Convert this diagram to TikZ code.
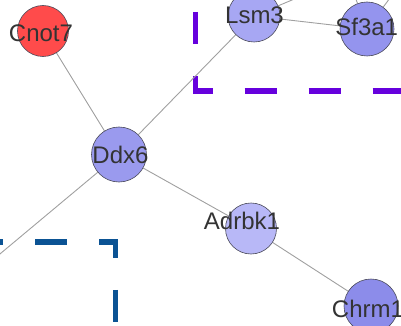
\documentclass[tikz,border=0pt]{standalone}
\usepackage{fontspec}
\setmainfont{Liberation Sans}
\pgfdeclarelayer{back}
\pgfsetlayers{back,main}
\definecolor{edgegray}{HTML}{A0A0A0}
\definecolor{txtgray}{HTML}{333333}
\definecolor{rimgray}{HTML}{4A4A5A}
\definecolor{boxpurple}{HTML}{6600DD}
\definecolor{boxblue}{HTML}{0B5394}
\definecolor{cred}{HTML}{FF4B4B}
\definecolor{cddx}{HTML}{9A9AEE}
\definecolor{clsm}{HTML}{A7A7F3}
\definecolor{csf}{HTML}{9494EE}
\definecolor{cadr}{HTML}{B8B8F7}
\definecolor{cchr}{HTML}{8C8CEA}
\begin{document}
\begin{tikzpicture}[x=1pt,y=-1pt,
  gene/.style={circle,draw=rimgray,line width=0.6pt,inner sep=0pt},
  lbl/.style={inner sep=0pt,text=txtgray,font=\fontsize{24}{28}\selectfont},
  edge/.style={draw=edgegray,line width=0.9pt},
  region/.style={line width=5.5pt,dash pattern=on 32pt off 32pt,line cap=butt}]
\useasboundingbox (0,0) rectangle (401,326);
\clip (0,0) rectangle (401,326);
% group boxes
\coordinate (pstart) at (195.5,-52);
\coordinate (pcorner) at (195.5,91);
\coordinate (pend) at (440,91);
\coordinate (bstart) at (-28.7,242);
\coordinate (bcorner) at (115.5,242);
\coordinate (bend) at (115.5,380);
% nodes
\node[gene,fill=cred,minimum size=51pt] (cnot7) at (43,31) {};
\node[gene,fill=cddx,minimum size=55pt] (ddx6) at (119,154.5) {};
\node[gene,fill=clsm,minimum size=52pt] (lsm3) at (254,16) {};
\node[gene,fill=csf,minimum size=54pt] (sf3a1) at (367,29) {};
\node[gene,fill=cadr,minimum size=51pt] (adrbk1) at (251,228.5) {};
\node[gene,fill=cchr,minimum size=54pt] (chrm1) at (371,306) {};
% off-canvas ends
\coordinate (offa) at (-121,355);
\coordinate (offb) at (330,-16);
\coordinate (offc) at (347,-25);
\coordinate (offd) at (407,-25);
\begin{pgfonlayer}{back}
\draw[region,boxpurple] (pstart) -- (pcorner) -- (pend);
\draw[region,boxblue] (bstart) -- (bcorner) -- (bend);
\draw[edge] (cnot7) -- (ddx6);
\draw[edge] (ddx6) -- (lsm3);
\draw[edge] (lsm3) -- (sf3a1);
\draw[edge] (ddx6) -- (adrbk1);
\draw[edge] (adrbk1) -- (chrm1);
\draw[edge] (ddx6) -- (offa);
\draw[edge] (lsm3) -- (offb);
\draw[edge] (sf3a1) -- (offc);
\draw[edge] (sf3a1) -- (offd);
\end{pgfonlayer}
% labels
\node[lbl] (tcnot7) at (41,33.5) {Cnot7};
\node[lbl] (tddx6) at (120.5,154.5) {Ddx6};
\node[lbl] (tlsm3) at (254.5,15) {Lsm3};
\node[lbl] (tsf3a1) at (366.7,26.5) {Sf3a1};
\node[lbl] (tadrbk1) at (242,221) {Adrbk1};
\node[lbl] (tchrm1) at (368,308.5) {Chrm1};
\end{tikzpicture}
\end{document}
